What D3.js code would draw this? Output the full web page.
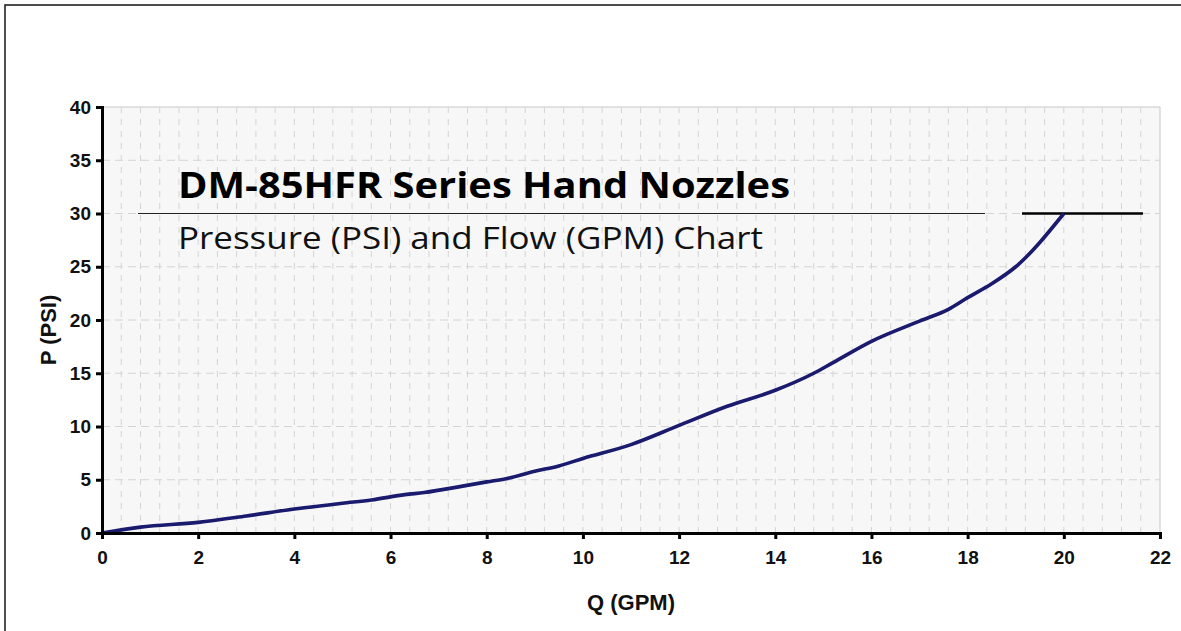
<!DOCTYPE html>
<html><head><meta charset="utf-8">
<script src="https://cdn.jsdelivr.net/npm/d3@7"></script>
<style>body{margin:0;background:#fff;} svg{display:block;}</style>
</head><body>
<svg id="c" width="1181" height="631"></svg>
<script>
const flowGPM = [0,0.8,2,3,4,5,5.6,6.3,6.7,7.5,8,8.4,9,9.5,10,11,12,13,14,14.8,15.2,16,17,17.6,18,18.5,19,20];
const pressurePSI = [0,0.55,1.0,1.6,2.25,2.8,3.1,3.6,3.8,4.4,4.8,5.1,5.8,6.3,7.0,8.3,10.1,11.9,13.4,15.0,16.0,18.0,19.9,21.0,22.1,23.4,25.0,30.0];
const xTicks = [0,2,4,6,8,10,12,14,16,18,20,22];
const yTicks = [0,5,10,15,20,25,30,35,40];
const titleText = "DM-85HFR Series Hand Nozzles";
const subtitleText = "Pressure (PSI) and Flow (GPM) Chart";
const xLabel = "Q (GPM)";
const yLabel = "P (PSI)";

const svg = d3.select("#c");
const L=102,R=1160,T=107,B=533;
const x = d3.scaleLinear().domain([0,22]).range([L,R]);
const y = d3.scaleLinear().domain([0,40]).range([B,T]);

// outer frame
svg.append("rect").attr("x",5).attr("y",5).attr("width",1200).attr("height",700)
  .attr("fill","none").attr("stroke","#222").attr("stroke-width",1.6);

// plot background
svg.append("rect").attr("x",L).attr("y",T).attr("width",R-L).attr("height",B-T).attr("fill","#f7f7f7");
svg.append("path").attr("d",`M${L},${T}H${R}V${B}`).attr("fill","none").attr("stroke","#c8c8c8").attr("stroke-width",1);

// minor vertical grid every 0.4
const vgrid = d3.range(0.4,22,0.4);
svg.append("g").selectAll("line").data(vgrid).join("line")
  .attr("x1",d=>x(d)).attr("x2",d=>x(d)).attr("y1",T).attr("y2",B)
  .attr("stroke","#d4d4d4").attr("stroke-width",1).attr("stroke-dasharray","6,6");
// horizontal grid every 5
svg.append("g").selectAll("line").data(yTicks.filter(d=>d>0&&d<40)).join("line")
  .attr("x1",L).attr("x2",R).attr("y1",d=>y(d)).attr("y2",d=>y(d))
  .attr("stroke","#d4d4d4").attr("stroke-width",1).attr("stroke-dasharray","8,5");

// title
svg.append("text").attr("x",178).attr("y",198).text(titleText)
  .attr("font-family","Open Sans").attr("font-weight","bold").attr("font-size",36)
  .attr("textLength",612).attr("lengthAdjust","spacingAndGlyphs").attr("fill","#000");
svg.append("line").attr("x1",138).attr("x2",985).attr("y1",y(30)).attr("y2",y(30))
  .attr("stroke","#222").attr("stroke-width",1.2);
svg.append("line").attr("x1",1022).attr("x2",1143).attr("y1",y(30)).attr("y2",y(30))
  .attr("stroke","#000").attr("stroke-width",2.6);
svg.append("text").attr("x",178).attr("y",249).text(subtitleText)
  .attr("font-family","Open Sans").attr("font-size",31)
  .attr("textLength",585).attr("lengthAdjust","spacingAndGlyphs").attr("fill","#111");

// curve
const line = d3.line().x((d,i)=>x(flowGPM[i])).y(d=>y(d)).curve(d3.curveMonotoneX);
svg.append("path").datum(pressurePSI).attr("d",line).attr("fill","none")
  .attr("stroke","#1a1a6e").attr("stroke-width",3.6).attr("stroke-linejoin","round");

// axes
const xAxis = d3.axisBottom(x).tickValues(xTicks).tickSize(6).tickPadding(12).tickFormat(d3.format("d"));
const gx = svg.append("g").attr("transform",`translate(0,${B})`).call(xAxis);
const yAxis = d3.axisLeft(y).tickValues(yTicks).tickSize(6).tickPadding(5).tickFormat(d3.format("d"));
const gy = svg.append("g").attr("transform",`translate(${L},0)`).call(yAxis);
[gx,gy].forEach(g=>{
  g.attr("font-size",null).attr("font-family",null);
  g.select(".domain").attr("stroke","#000").attr("stroke-width",3);
  g.selectAll(".tick line").attr("stroke","#000").attr("stroke-width",3);
  g.selectAll(".tick text").style("font-family","'Liberation Sans', Arial, sans-serif").style("font-weight","bold")
    .style("font-size","19px").attr("fill","#111");
});

svg.append("text").attr("x",631).attr("y",610).attr("text-anchor","middle").text(xLabel)
  .style("font-family","'Liberation Sans', Arial, sans-serif").style("font-weight","bold").style("font-size","22px").attr("fill","#111");
svg.append("text").attr("transform","translate(56,330) rotate(-90)").attr("text-anchor","middle").text(yLabel)
  .style("font-family","'Liberation Sans', Arial, sans-serif").style("font-weight","bold").style("font-size","22px").attr("fill","#111");
</script>
</body></html>
